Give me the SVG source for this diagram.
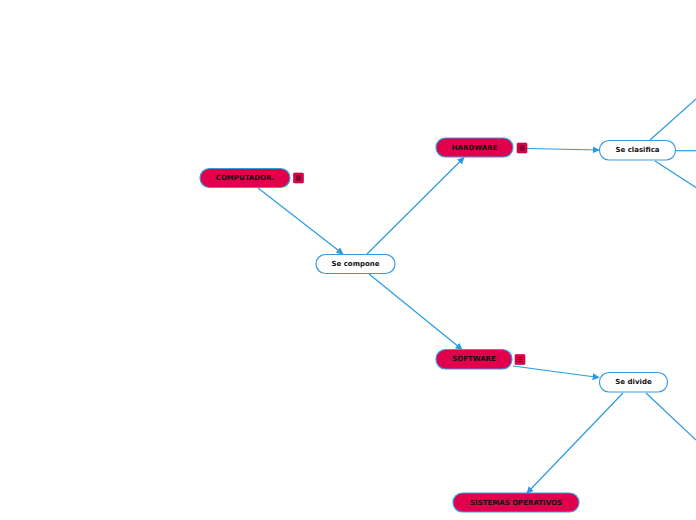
<svg xmlns="http://www.w3.org/2000/svg" width="696" height="520" viewBox="0 0 696 520">
<defs>
<style>
.main rect.box{fill:#e2004c;stroke:#3b9ade;stroke-width:1.2}
.sub rect.box{fill:#ffffff;stroke:#3b9ade;stroke-width:1.2}
text{font-family:"DejaVu Sans",Verdana,sans-serif;font-size:7px;font-weight:bold;fill:#111;text-anchor:middle;dominant-baseline:central}
.conn line{stroke:#2a9ae2;stroke-width:1.2;fill:none}
</style>
<marker id="arr" viewBox="0 0 10 10" refX="9" refY="5" markerWidth="7" markerHeight="7" markerUnits="userSpaceOnUse" orient="auto">
<path d="M0,0 L10,5 L0,10 z" fill="#2a9ae2"/>
</marker>
<g id="menu">
<rect x="0" y="0" width="10" height="10" rx="1" fill="#e2004c" stroke="#b0003a" stroke-width="0.6"/>
<line x1="2.5" y1="3" x2="7.5" y2="3" stroke="#111" stroke-width="0.9"/>
<line x1="2.5" y1="5" x2="7.5" y2="5" stroke="#111" stroke-width="0.9"/>
<line x1="2.5" y1="7" x2="7.5" y2="7" stroke="#111" stroke-width="0.9"/>
</g>
</defs>
<rect width="696" height="520" fill="#ffffff"/>
<g id="connectors" class="conn">
<line x1="258" y1="188" x2="343" y2="254" marker-end="url(#arr)"/>
<line x1="367" y1="254" x2="464" y2="157.5" marker-end="url(#arr)"/>
<line x1="369" y1="274" x2="462" y2="349.5" marker-end="url(#arr)"/>
<line x1="527" y1="148.5" x2="599" y2="150" marker-end="url(#arr)"/>
<line x1="513" y1="366" x2="599" y2="377.5" marker-end="url(#arr)"/>
<line x1="623" y1="393" x2="527" y2="493" marker-end="url(#arr)"/>
<line x1="646" y1="393" x2="696" y2="440"/>
<line x1="650" y1="140" x2="696" y2="99"/>
<line x1="676" y1="150.7" x2="696" y2="150.7"/>
<line x1="655" y1="161" x2="696" y2="187.5"/>
</g>
<g id="computador" class="main">
<rect class="box" x="200" y="168.5" width="90" height="19" rx="9.5"/>
<text x="245" y="178">COMPUTADOR.</text>
<use href="#menu" x="293.5" y="173"/>
</g>
<g id="se-compone" class="sub">
<rect class="box" x="316" y="254.5" width="79" height="19" rx="9.5"/>
<text x="355.5" y="264">Se compone</text>
</g>
<g id="hardware" class="main">
<rect class="box" x="436" y="138" width="77" height="19" rx="9.5"/>
<text x="474.5" y="147.5">HARDWARE</text>
<use href="#menu" x="517" y="143"/>
</g>
<g id="se-clasifica" class="sub">
<rect class="box" x="599.5" y="140.5" width="76" height="19.5" rx="9.5"/>
<text x="637.5" y="150.3">Se clasifica</text>
</g>
<g id="software" class="main">
<rect class="box" x="436" y="349.5" width="76" height="19.5" rx="9.5"/>
<text x="474" y="359.3">SOFTWARE</text>
<use href="#menu" x="515" y="354.5"/>
</g>
<g id="se-divide" class="sub">
<rect class="box" x="599.5" y="372.5" width="68" height="19.5" rx="9.5"/>
<text x="633.5" y="382.3">Se divide</text>
</g>
<g id="sistemas-operativos" class="main">
<rect class="box" x="453" y="493" width="126" height="19" rx="9.5"/>
<text x="516" y="502.5">SISTEMAS OPERATIVOS</text>
</g>
</svg>
